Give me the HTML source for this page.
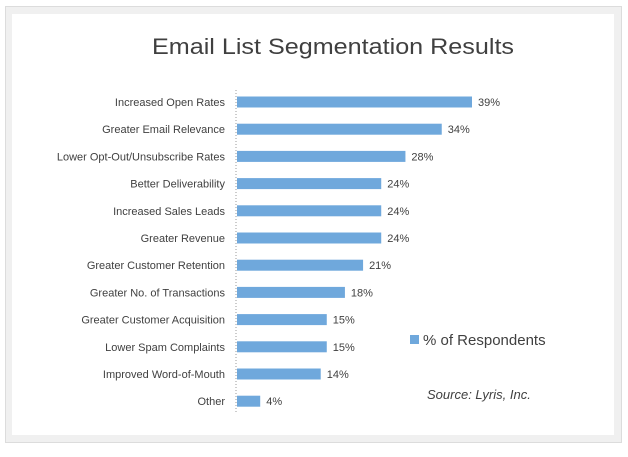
<!DOCTYPE html>
<html><head><meta charset="utf-8"><style>
body{margin:0;width:628px;height:452px;background:#fff;font-family:"Liberation Sans",sans-serif;overflow:hidden}
</style></head><body>
<svg width="628" height="452">
<rect x="5.5" y="6.5" width="616" height="436" fill="#f0f0f0" stroke="#dcdcdc"/>
<rect x="12" y="14" width="602" height="421" fill="#fff"/>
<text x="333" y="54" text-anchor="middle" font-size="22" fill="#404040" textLength="362" lengthAdjust="spacingAndGlyphs">Email List Segmentation Results</text>
<line x1="236" y1="90" x2="236" y2="414" stroke="#999" stroke-dasharray="1,2"/>
<g id="bars"></g>
<rect x="410" y="335" width="9" height="9" fill="#6fa8dc"/>
<text x="423" y="345" font-size="15" fill="#404040">% of Respondents</text>
<text x="427" y="399" font-size="13" font-style="italic" fill="#404040">Source: Lyris, Inc.</text>
</svg>
<script>
const categories=["Increased Open Rates","Greater Email Relevance","Lower Opt-Out/Unsubscribe Rates","Better Deliverability","Increased Sales Leads","Greater Revenue","Greater Customer Retention","Greater No. of Transactions","Greater Customer Acquisition","Lower Spam Complaints","Improved Word-of-Mouth","Other"];
const values=[39,34,28,24,24,24,21,18,15,15,14,4];
const valueLabels=["39%","34%","28%","24%","24%","24%","21%","18%","15%","15%","14%","4%"];
const NS="http://www.w3.org/2000/svg";
const x0=236, pxPer=(472-236)/39;
const xS=v=>x0+v*pxPer;
const yS=i=>102+i*27.2;
const g=document.getElementById('bars');
categories.forEach((c,i)=>{
  const y=yS(i);
  const r=document.createElementNS(NS,'rect');
  
  
  r.setAttribute('x',x0+1);r.setAttribute('y',y-5.5);
  r.setAttribute('width',xS(values[i])-x0-1);r.setAttribute('height',11);
  r.setAttribute('fill','#6fa8dc');g.appendChild(r);
  const t=document.createElementNS(NS,'text');
  
  
  t.setAttribute('x',225);t.setAttribute('y',y+4);
  t.setAttribute('text-anchor','end');t.setAttribute('font-size','11');t.setAttribute('fill','#404040');
  t.textContent=c;g.appendChild(t);
  const v=document.createElementNS(NS,'text');
  
  
  v.setAttribute('x',xS(values[i])+6);v.setAttribute('y',y+4);
  v.setAttribute('font-size','11');v.setAttribute('fill','#404040');
  v.textContent=valueLabels[i];g.appendChild(v);
});
</script>
</body></html>
